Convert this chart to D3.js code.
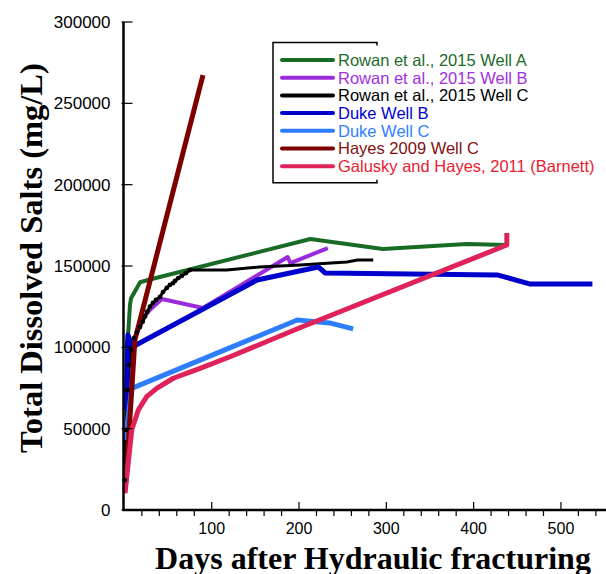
<!DOCTYPE html>
<html>
<head>
<meta charset="utf-8">
<script src="https://cdn.jsdelivr.net/npm/d3@7"></script>
<style>
  body { margin: 0; background: #fff; }
  svg { display: block; }
</style>
</head>
<body>
<div id="chart"></div>
<script>
/// Data (days after fracturing, TDS mg/L)

var seriesNames = [
  "Rowan et al., 2015 Well A",
  "Rowan et al., 2015 Well B",
  "Rowan et al., 2015 Well C",
  "Duke Well B",
  "Duke Well C",
  "Hayes 2009 Well C",
  "Galusky and Hayes, 2011 (Barnett)"
];

var wellADays   = [2, 4, 6.4, 7.5, 18, 27, 213, 296, 392, 438];
var wellAValues = [100000, 106000, 126000, 130000, 140000, 141400, 166600, 160400, 163500, 162900];

var wellBDays   = [0.7, 3, 10, 20, 29, 43, 90, 187, 190, 233];
var wellBValues = [18400, 67600, 102700, 116800, 123000, 129700, 124200, 155500, 151800, 161000];

var wellCDays   = [0.3, 1.8, 3.5, 5.3, 7.6, 11, 14.4, 17.9, 21, 23.6, 26.2, 29.3, 32.7, 36.2, 40.8,
                   44.2, 48.5, 52.2, 55.7, 58, 61.7, 65.6, 70.6, 75, 117, 155, 201, 255, 267, 285];
var wellCValues = [18400, 49200, 73800, 89100, 98400, 105700, 109400, 112500, 115800, 118900, 122000,
                   125000, 127300, 129100, 131000, 134000, 136500, 138400, 139500, 140800, 142600,
                   143900, 145700, 147500, 147500, 149400, 150600, 152500, 153700, 153700];

var dukeBDays   = [2, 4, 9, 152, 222, 230, 427, 465, 536];
var dukeBValues = [61500, 107600, 100200, 141400, 149400, 145700, 144500, 138900, 138900];

var dukeCDays   = [1, 8.4, 198, 235, 262];
var dukeCValues = [43000, 74800, 116800, 115000, 111300];

var hayesDays   = [0.8, 2.6, 12, 90];
var hayesValues = [12000, 24600, 104500, 267400];

var galuskyDays   = [0.7, 8.4, 15.9, 25.5, 37, 56, 86.6, 121, 201, 438, 438];
var galuskyValues = [10300, 49200, 61500, 69700, 74800, 81000, 87100, 94200, 112000, 162900, 170300];

var xMajorTicks = [100, 200, 300, 400, 500];
var yTicks = [0, 50000, 100000, 150000, 200000, 250000, 300000];

/// Styles
var lineColors = ["#176b25", "#9b2bd9", "#000000", "#0000cc", "#2f7dff", "#7d0000", "#e0225a"];
var textColors = ["#1e6b2a", "#a030e0", "#000000", "#0000d0", "#3080ff", "#801010", "#e82030"];
var lineWidths = [4, 4, 3, 5, 5, 5, 5];

var allDays = [wellADays, wellBDays, wellCDays, dukeBDays, dukeCDays, hayesDays, galuskyDays];
var allValues = [wellAValues, wellBValues, wellCValues, dukeBValues, dukeCValues, hayesValues, galuskyValues];

var series = seriesNames.map(function(name, i) {
  return {
    name: name,
    points: allDays[i].map(function(d, j) { return {day: d, tds: allValues[i][j]}; })
  };
});

var W = 606, H = 574;

var svg = d3.select("#chart").append("svg")
    .attr("width", W)
    .attr("height", H);

var x = d3.scaleLinear().domain([0, 550]).range([124.4, 604.6]);
var y = d3.scaleLinear().domain([0, 300000]).range([510, 22]);

var line = d3.line()
    .x(function(d) { return x(d.day); })
    .y(function(d) { return y(d.tds); });

/// Series lines
svg.selectAll("path.series")
  .data(series)
  .enter()
  .append("path")
    .attr("class", "series")
    .attr("d", function(d) { return line(d.points); })
    .attr("fill", "none")
    .attr("stroke", function(d, i) { return lineColors[i]; })
    .attr("stroke-width", function(d, i) { return lineWidths[i]; })
    .attr("stroke-linejoin", "round")
    .attr("stroke-linecap", "butt");

/// Markers for the dense early Well C samples
svg.selectAll("circle.wellc")
  .data(series[2].points.filter(function(d) { return d.day <= 75; }))
  .enter()
  .append("circle")
    .attr("class", "wellc")
    .attr("cx", function(d) { return x(d.day); })
    .attr("cy", function(d) { return y(d.tds); })
    .attr("r", 2.4)
    .attr("fill", "#000");

/// Axes
var xAxis = svg.append("g").attr("transform", "translate(0,510)");
xAxis.append("line")
    .attr("x1", 123).attr("x2", W)
    .attr("stroke", "#000").attr("stroke-width", 2.5);

// minor ticks every 20 days, pointing down
xAxis.selectAll("line.minor")
  .data(d3.range(20, 560, 20).filter(function(d) { return d % 100 !== 0; }))
  .enter()
  .append("line")
    .attr("class", "minor")
    .attr("x1", function(d) { return x(d); })
    .attr("x2", function(d) { return x(d); })
    .attr("y1", 0).attr("y2", 6)
    .attr("stroke", "#000").attr("stroke-width", 1.2);

// major ticks pointing up into the plot
xAxis.selectAll("line.major")
  .data(xMajorTicks)
  .enter()
  .append("line")
    .attr("class", "major")
    .attr("x1", function(d) { return x(d); })
    .attr("x2", function(d) { return x(d); })
    .attr("y1", 0).attr("y2", -8)
    .attr("stroke", "#000").attr("stroke-width", 1.2);

xAxis.selectAll("text")
  .data(xMajorTicks)
  .enter()
  .append("text")
    .attr("x", function(d) { return x(d); })
    .attr("y", 24)
    .attr("text-anchor", "middle")
    .attr("font-family", "'Liberation Sans', Arial, sans-serif")
    .attr("font-size", "16px")
    .text(function(d) { return d; });

var yAxis = svg.append("g").attr("transform", "translate(123.5,0)");
yAxis.append("line")
    .attr("y1", y(300000)).attr("y2", 511)
    .attr("stroke", "#000").attr("stroke-width", 2.5);

yAxis.selectAll("line.tick")
  .data(yTicks)
  .enter()
  .append("line")
    .attr("class", "tick")
    .attr("x1", -2).attr("x2", 9)
    .attr("y1", function(d) { return y(d); })
    .attr("y2", function(d) { return y(d); })
    .attr("stroke", "#000").attr("stroke-width", 1.2);

yAxis.selectAll("text")
  .data(yTicks)
  .enter()
  .append("text")
    .attr("x", -13)
    .attr("y", function(d) { return y(d) + 6; })
    .attr("text-anchor", "end")
    .attr("font-family", "'Liberation Sans', Arial, sans-serif")
    .attr("font-size", "17px")
    .text(function(d) { return d; });

/// Axis titles
svg.append("text")
    .attr("transform", "translate(42,258) rotate(-90)")
    .attr("text-anchor", "middle")
    .attr("font-family", "'Liberation Serif', 'Times New Roman', serif")
    .attr("font-weight", "bold")
    .attr("font-size", "32.5px")
    .text("Total Dissolved Salts (mg/L)");

svg.append("text")
    .attr("x", 373)
    .attr("y", 569)
    .attr("text-anchor", "middle")
    .attr("font-family", "'Liberation Serif', 'Times New Roman', serif")
    .attr("font-weight", "bold")
    .attr("font-size", "32px")
    .text("Days after Hydraulic fracturing");

/// Legend
var legend = svg.append("g");
legend.append("path")
    .attr("d", "M377,45.5V42.5H273V182.7H377V179.7")
    .attr("fill", "none")
    .attr("stroke", "#000")
    .attr("stroke-width", 1.5);

var items = legend.selectAll("g.item")
  .data(seriesNames)
  .enter()
  .append("g")
    .attr("class", "item")
    .attr("transform", function(d, i) { return "translate(0," + (60 + i * 17.7) + ")"; });

items.append("line")
    .attr("x1", 282).attr("x2", 333)
    .attr("stroke", function(d, i) { return lineColors[i]; })
    .attr("stroke-width", 4)
    .attr("stroke-linecap", "round");

items.append("text")
    .attr("x", 338)
    .attr("y", 5.8)
    .attr("font-family", "'Liberation Sans', Arial, sans-serif")
    .attr("font-size", "16.5px")
    .attr("fill", function(d, i) { return textColors[i]; })
    .text(function(d) { return d; });
</script>
</body>
</html>
